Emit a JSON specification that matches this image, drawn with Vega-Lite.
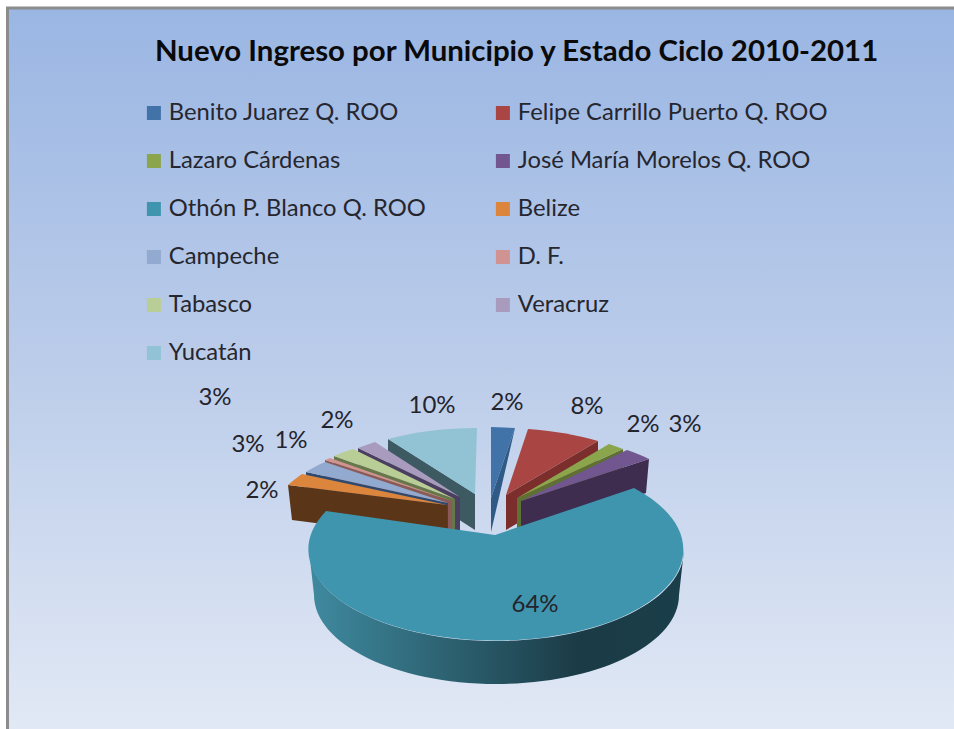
{
"$schema":"https://vega.github.io/schema/vega-lite/v6.json",
"width":954,"height":729,"padding":0,"autosize":"none","background":"#ffffff",
"title":{"text":"Nuevo Ingreso por Municipio y Estado Ciclo 2010-2011","font":"Lato","fontSize":29.4,"fontWeight":"bold","color":"#0a0a0a","anchor":"start","frame":"group","offset":0,"dx":155,"dy":67},
"config":{"view":{"stroke":null}},
"datasets":{"pie":[
{"municipio":"Yucatán","porcentaje":0.10,"orden":10},
{"municipio":"Veracruz","porcentaje":0.03,"orden":9},
{"municipio":"Tabasco","porcentaje":0.02,"orden":8},
{"municipio":"D. F.","porcentaje":0.01,"orden":7},
{"municipio":"Campeche","porcentaje":0.03,"orden":6},
{"municipio":"Belize","porcentaje":0.02,"orden":5},
{"municipio":"Benito Juarez Q. ROO","porcentaje":0.02,"orden":0},
{"municipio":"Felipe Carrillo Puerto Q. ROO","porcentaje":0.08,"orden":1},
{"municipio":"Lazaro Cárdenas","porcentaje":0.02,"orden":2},
{"municipio":"José María Morelos Q. ROO","porcentaje":0.03,"orden":3},
{"municipio":"Othón P. Blanco Q. ROO","porcentaje":0.64,"orden":4}
]},
"resolve":{"scale":{"x":"independent","y":"independent","color":"independent","shape":"independent"}},
"layer":[
{"data":{"values":[{"marco":"fondo"}]},
 "mark":{"type":"rect","stroke":"#8c8c8c","strokeWidth":3,"color":{"gradient":"linear","x1":0,"y1":0,"x2":0,"y2":1,"stops":[{"offset":0,"color":"#9ab6e3"},{"offset":0.5,"color":"#bccdea"},{"offset":1,"color":"#e2e9f5"}]}},
 "encoding":{
  "x":{"datum":7.5,"type":"quantitative","scale":{"domain":[0,954],"range":[0,954]},"axis":null},
  "x2":{"datum":960},
  "y":{"datum":8,"type":"quantitative","scale":{"domain":[0,729],"range":[0,729]},"axis":null},
  "y2":{"datum":735}
 }},
{"data":{"name":"pie"},
 "transform":[{"filter":"datum.orden !== 4"}],
 "mark":{"type":"point","filled":true,"opacity":1,"size":4,"strokeWidth":0},
 "encoding":{
  "x":{"datum":495,"type":"quantitative","scale":{"domain":[0,954],"range":[0,954]},"axis":null},
  "y":{"datum":535,"type":"quantitative","scale":{"domain":[0,729],"range":[0,729]},"axis":null},
  "color":{"field":"municipio","type":"nominal","legend":null,"scale":{
    "domain":["Yucatán","Veracruz","Tabasco","D. F.","Campeche","Belize","Benito Juarez Q. ROO","Felipe Carrillo Puerto Q. ROO","Lazaro Cárdenas","José María Morelos Q. ROO"],
    "range":["#3d5a63","#4a3f5f","#66784a","#8a5a58","#2f4a6e","#5a3517","#2f5a85","#7b2e2c","#5e7032","#3e2d4f"]}},
  "shape":{"field":"municipio","type":"nominal","legend":null,"scale":{
    "domain":["Yucatán","Veracruz","Tabasco","D. F.","Campeche","Belize","Benito Juarez Q. ROO","Felipe Carrillo Puerto Q. ROO","Lazaro Cárdenas","José María Morelos Q. ROO"],
    "range":["M-107,-96L-20,-41L-20,-5L-107,-61Z","M-137,-87L-35,-38L-35,-2L-137,-52Z","M-161,-79L-40,-36L-40,0L-161,-44Z","M-170,-75L-43,-34L-43,1L-170,-40Z","M-189,-63L-47,-32L-47,3L-189,-28Z","M-207,-50L-48,-30L-47,5L-203,-15Z","M20,-107L-4,-37L-4,-3Z","M103,-94L11,-40L11,-5L103,-59Z","M128,-86L22,-37L22,-2L128,-51Z","M154,-76L26,-34L26,1L151,-42Z"]}}
 }},
{"data":{"name":"pie"},
 "transform":[{"filter":"datum.orden === 4"}],
 "mark":{"type":"point","filled":true,"opacity":1,"size":4,"strokeWidth":0,"color":{"gradient":"linear","x1":0,"y1":0,"x2":1,"y2":0,"stops":[{"offset":0,"color":"#3f8a9f"},{"offset":0.72,"color":"#1b3b46"},{"offset":1,"color":"#1a3f4a"}]}},
 "encoding":{
  "x":{"datum":495,"type":"quantitative","scale":{"domain":[0,954],"range":[0,954]},"axis":null},
  "y":{"datum":535,"type":"quantitative","scale":{"domain":[0,729],"range":[0,729]},"axis":null},
  "shape":{"field":"municipio","type":"nominal","legend":null,"scale":{"domain":["Othón P. Blanco Q. ROO"],"range":["M-186,15A187.5,91 0 0 0 189,15L184,60A182.5,89 0 0 1 -181,60Z"]}}
 }},
{"data":{"name":"pie"},
 "mark":{"type":"point","filled":true,"opacity":1,"size":4,"strokeWidth":0},
 "encoding":{
  "x":{"datum":495,"type":"quantitative","scale":{"domain":[0,954],"range":[0,954]},"axis":null},
  "y":{"datum":535,"type":"quantitative","scale":{"domain":[0,729],"range":[0,729]},"axis":null},
  "color":{"field":"municipio","type":"nominal","sort":null,"scale":{
    "domain":["Benito Juarez Q. ROO","Felipe Carrillo Puerto Q. ROO","Lazaro Cárdenas","José María Morelos Q. ROO","Othón P. Blanco Q. ROO","Belize","Campeche","D. F.","Tabasco","Veracruz","Yucatán"],
    "range":["#4172a8","#a94643","#8ba54d","#71568f","#4095ae","#dc853d","#92a9d0","#d19392","#b9cd96","#a99bbd","#91c3d5"]},
   "legend":{"title":null,"orient":"none","legendX":142,"legendY":102,"direction":"horizontal","columns":2,"columnPadding":65,"rowPadding":24,"symbolType":"square","symbolSize":196,"symbolOpacity":1,"symbolStrokeWidth":0,"labelFont":"Lato","labelFontSize":23.8,"labelColor":"#26262e","labelOffset":3,"labelLimit":400,"clipHeight":22}},
  "shape":{"field":"municipio","type":"nominal","legend":null,"scale":{
    "domain":["Yucatán","Veracruz","Tabasco","D. F.","Campeche","Belize","Benito Juarez Q. ROO","Felipe Carrillo Puerto Q. ROO","Lazaro Cárdenas","José María Morelos Q. ROO","Othón P. Blanco Q. ROO"],
    "range":["M-20,-41L-107,-96A187,91 0 0 1 -18,-107Z","M-35,-38L-137,-87A187,91 0 0 1 -120,-93Z","M-40,-36L-161,-79A187,91 0 0 1 -142,-86Z","M-43,-34L-170,-75A187,91 0 0 1 -165,-77Z","M-47,-32L-189,-63A187,91 0 0 1 -170,-73Z","M-48,-30L-207,-50A187,91 0 0 1 -193,-61Z","M-4,-37L-4,-108L20,-107Z","M11,-40L33,-106A187,91 0 0 1 103,-94Z","M22,-37L114,-91A187,91 0 0 1 128,-86Z","M26,-34L132,-85A187,91 0 0 1 154,-76Z","M-169,-24L0,0L139,-47A187.5,91 0 1 1 -169,-24Z"]}}
 }},
{"data":{"name":"pie"},
 "mark":{"type":"text","font":"Lato","fontSize":24,"color":"#24242c","align":"center","baseline":"middle"},
 "encoding":{
  "x":{"field":"orden","type":"quantitative","axis":null,"scale":{"zero":false,"nice":false,"domain":[0,1,2,3,4,5,6,7,8,9,10],"range":[507,587,643,685,535,262,248,291,337,215,432]}},
  "y":{"field":"orden","type":"quantitative","axis":null,"scale":{"zero":false,"nice":false,"domain":[0,1,2,3,4,5,6,7,8,9,10],"range":[403,407,425,425,605,491,445,441,421,398,406]}},
  "text":{"field":"porcentaje","type":"quantitative","format":".0%"}
 }}
]
}
